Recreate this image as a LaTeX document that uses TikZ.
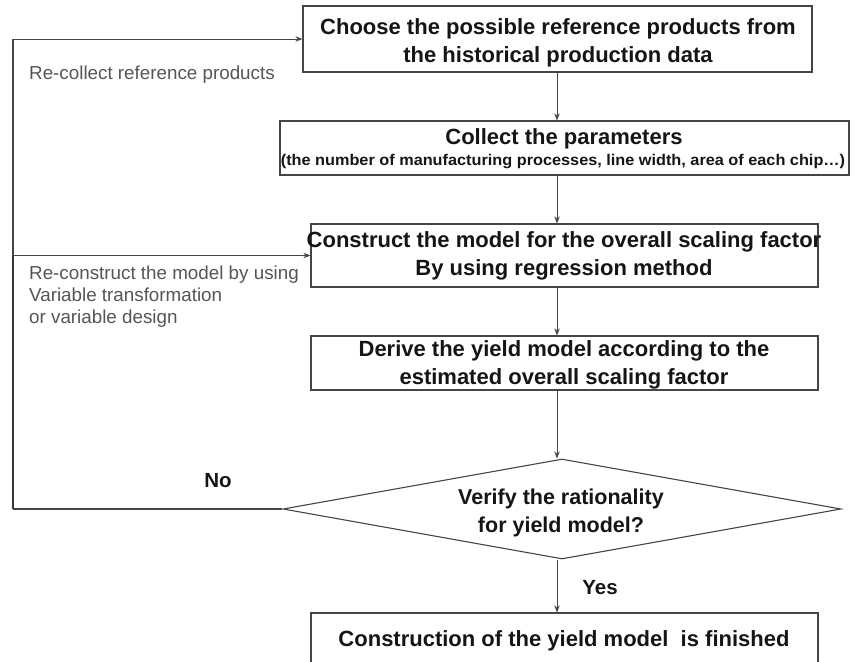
\documentclass[tikz,border=0pt]{standalone}
\usepackage{fontspec}
\setmainfont{Liberation Sans}
\usetikzlibrary{arrows.meta,shapes.geometric}
\definecolor{frame}{HTML}{454545}
\definecolor{lab}{HTML}{555555}
\definecolor{ink}{HTML}{151515}
\tikzset{
  stepbox/.style={draw=frame, line width=1.2pt, inner sep=0pt, rectangle},
  boxtext/.style={text=ink, align=center, inner sep=0pt, font=\fontsize{22}{28}\selectfont\bfseries},
  subtext/.style={text=ink, align=center, inner sep=0pt, font=\fontsize{15.5}{18}\selectfont\bfseries},
  note/.style={text=lab, align=left, anchor=north west, inner sep=0pt, font=\fontsize{18.8}{22}\selectfont},
  yn/.style={text=ink, inner sep=0pt, font=\fontsize{20.5}{24}\selectfont\bfseries},
  flow/.style={draw=frame, line width=1pt, -{Stealth[length=7pt,width=5.5pt]}},
  fbthin/.style={draw=frame, line width=1.2pt},
  fbthick/.style={draw=frame!80!black, line width=2.6pt},
}
\begin{document}
\begin{tikzpicture}[x=1pt,y=-1pt]
\useasboundingbox (0,0) rectangle (855,662);
% boxes
\node[stepbox, minimum width=509pt, minimum height=66pt] (b1) at (557.5,39) {};
\node[stepbox, minimum width=569pt, minimum height=54pt] (b2) at (564.5,148) {};
\node[stepbox, minimum width=507pt, minimum height=63pt] (b3) at (564.5,255.5) {};
\node[stepbox, minimum width=507pt, minimum height=54pt] (b4) at (564.5,363) {};
\node[stepbox, minimum width=507pt, minimum height=77pt] (b5) at (564.5,651.5) {};
\node[diamond, draw=frame, line width=1.1pt, inner sep=0pt, minimum width=558pt, minimum height=100pt] (d) at (562,509) {};
% texts
\node[boxtext] (t1) at (558,43) {Choose the possible reference products from\\the historical production data};
\node[boxtext] (t2) at (564,139) {Collect the parameters};
\node[subtext] (t2b) at (563,162) {\scalebox{1.05}[1]{(the number of manufacturing processes, line width, area of each chip\ldots)}};
\node[boxtext] (t3) at (564,256) {Construct the model for the overall scaling factor\\By using regression method};
\node[boxtext] (t4) at (564,365) {Derive the yield model according to the\\estimated overall scaling factor};
\node[boxtext] (t5) at (564,641) {Construction of the yield model\ \ is finished};
\node[boxtext, font=\fontsize{21.5}{28}\selectfont\bfseries] (td) at (561,513) {Verify the rationality\\for yield model?};
\node[note] (n1) at (29,66) {Re-collect reference products};
\node[note] (n2) at (29,266) {Re-construct the model by using\\Variable transformation\\or variable design};
\node[yn] (no) at (218,481) {No};
\node[yn] (yes) at (600,588) {Yes};
% axis
\coordinate (ax) at (557,0);
\coordinate (fl) at (13,0);
\draw[flow] (b1.south -| ax) -- (b2.north -| ax);
\draw[flow] (b2.south -| ax) -- (b3.north -| ax);
\draw[flow] (b3.south -| ax) -- (b4.north -| ax);
\draw[flow] (b4.south -| ax) -- (d.north -| ax);
\draw[flow] (d.south -| ax) -- (b5.north -| ax);
% feedback
\draw[fbthin] (d.west) -- (d.west -| fl);
\draw[fbthick] (d.west -| fl) -- (b3.west -| fl);
\draw[fbthin] (b3.west -| fl) -- (b1.west -| fl);
\draw[flow] (b1.west -| fl) -- (b1.west);
\draw[flow] (b3.west -| fl) -- (b3.west);
\end{tikzpicture}
\end{document}
